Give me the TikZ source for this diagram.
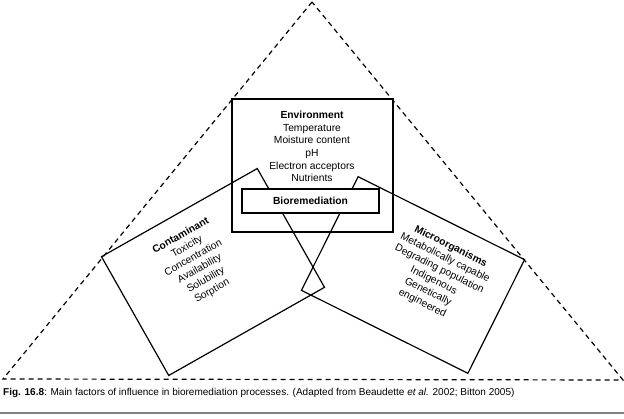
\documentclass[tikz,border=0pt]{standalone}
\usepackage{fontspec}
\setmainfont{Liberation Sans}
\begin{document}
\begin{tikzpicture}[x=1pt,y=-1pt,
  tri/.style={dash pattern=on 5pt off 4pt, line width=1.2pt},
  box/.style={draw, rectangle, line width=1.2pt, inner sep=0pt},
  lbl/.style={font=\fontsize{10.3}{12.7}\selectfont, align=center, inner sep=0pt},
  rule/.style={draw=gray, line width=1.5pt}]
\useasboundingbox (0,0) rectangle (624,419);
% outer dashed triangle
\coordinate (apex) at (312,2);
\coordinate (bl) at (3,379);
\coordinate (br) at (623,380);
\draw[tri] (apex) -- (bl) -- (br) -- cycle;
% boxes
\node[box, minimum width=161pt, minimum height=133pt] (env) at (312.5,165.5) {};
\node[box, minimum width=179pt, minimum height=136.5pt, rotate=29.5] (cont) at (213,272) {};
\node[box, minimum width=186pt, minimum height=127pt, rotate=-26.5] (micro) at (413,275) {};
\node[box, fill=white, minimum width=137pt, minimum height=24pt,
      font=\bfseries\fontsize{10.3}{12}\selectfont] (bio) at (310.5,201) {Bioremediation};
% texts
\node[lbl] (envtxt) at (312,146.5)
  {\textbf{Environment}\\Temperature\\Moisture content\\pH\\Electron acceptors\\Nutrients};
\node[lbl, rotate=29.5] (conttxt) at (196.5,263.5)
  {\textbf{Contaminant}\\Toxicity\\Concentration\\Availability\\Solubility\\Sorption};
\node[lbl, rotate=-26.5] (microtxt) at (436.5,275)
  {\textbf{Microorganisms}\\Metabolically capable\\Degrading population\\Indigenous\\Genetically\\engineered};
% caption
\node[anchor=base west, inner sep=0pt, font=\fontsize{10}{12}\selectfont] (cap) at (3,396)
  {\textbf{Fig. 16.8}: Main factors of influence in bioremediation processes. (Adapted from Beaudette \textit{et al.} 2002; Bitton 2005)};
\coordinate (rl) at (0,413);
\coordinate (rr) at (624,413);
\draw[rule] (rl) -- (rr);
\end{tikzpicture}
\end{document}
